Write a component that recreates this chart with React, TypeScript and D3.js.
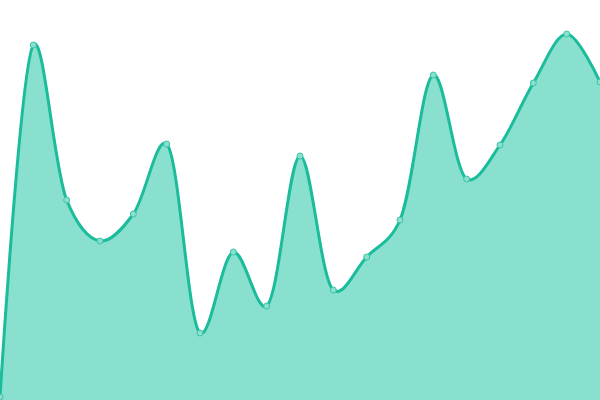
import React, { useEffect, useRef } from 'react';
import * as d3 from 'd3';

const values = [3, 355, 200, 159, 186, 256, 67, 148, 94, 244, 110, 143, 180, 325, 221, 255, 317, 366, 318];
const indices = values.map((_v, i) => i);

const App: React.FC = () => {
  const svgRef = useRef<SVGSVGElement>(null);

  useEffect(() => {
    if (!svgRef.current) return;
    const width = 600;
    const height = 400;

    const svg = d3.select(svgRef.current);
    svg.selectAll('*').remove();

    const x = d3.scaleLinear().domain([0, values.length - 1]).range([0, width]);
    const y = d3.scaleLinear().domain([0, 400]).range([height, 0]);
    const curve = d3.curveCatmullRom.alpha(0.25);

    const area = d3.area<number>()
      .x((_d, i) => x(indices[i]))
      .y0(height)
      .y1(d => y(d))
      .curve(curve);

    const line = d3.line<number>()
      .x((_d, i) => x(indices[i]))
      .y(d => y(d))
      .curve(curve);

    svg.append('path')
      .datum(values)
      .attr('d', area)
      .attr('fill', '#8ae0cf');

    svg.append('path')
      .datum(values)
      .attr('d', line)
      .attr('fill', 'none')
      .attr('stroke', '#1abc9c')
      .attr('stroke-width', 3);

    svg.selectAll('.dot')
      .data(values)
      .enter()
      .append('circle')
      .attr('cx', (_d, i) => x(indices[i]))
      .attr('cy', d => y(d))
      .attr('r', 3)
      .attr('fill', '#8ae0cf')
      .attr('stroke', '#3cc4a6')
      .attr('stroke-width', 1);
  }, []);

  return (
    <div style={{ position: 'fixed', left: 0, top: 0, width: 600, height: 400, background: '#fff' }}>
      <svg ref={svgRef} width={600} height={400} style={{ display: 'block' }}></svg>
    </div>
  );
};

export default App;
